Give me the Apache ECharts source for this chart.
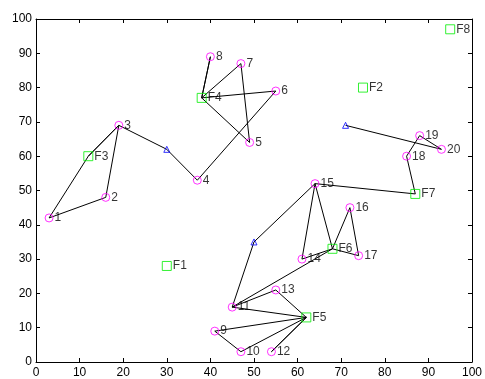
<!DOCTYPE html>
<html>
<head>
<meta charset="utf-8">
<script src="https://cdn.jsdelivr.net/npm/echarts@6/dist/echarts.min.js"></script>
<style>html,body{margin:0;padding:0;background:#fff;}#c{width:485px;height:379px;}</style>
</head>
<body>
<div id="c"></div>
<script>
// Customer points (magenta circles)
const circleNames = ['1','2','3','4','5','6','7','8','9','10','11','12','13','14','15','16','17','18','19','20'];
const circleX = [3,16,19,37,49,55,47,40,41,47,45,54,55,61,64,72,74,85,88,93];
const circleY = [42,48,69,53,64,79,87,89,9,3,16,3,21,30,52,45,31,60,66,62];
// Facilities (green squares)
const facNames = ['F1','F2','F3','F4','F5','F6','F7','F8'];
const facX = [30,75,12,38,62,68,87,95];
const facY = [28,80,60,77,13,33,49,97];
// Junction points (blue triangles, unlabeled)
const junNames = ['T1','T2','T3'];
const junX = [30,71,50];
const junY = [62,69,35];
// Connections
const edges = [
  ['F3','3'],['F3','3'],['F3','1'],['1','2'],['2','3'],['3','T1'],['T1','4'],['4','6'],['6','F4'],
  ['F4','8'],['F4','8'],['F4','7'],['7','5'],['5','F4'],
  ['T2','20'],['20','19'],['19','18'],['18','F7'],['F7','15'],
  ['15','T3'],['T3','11'],['15','14'],['15','F6'],['14','F6'],['11','F6'],['F6','16'],['16','17'],['17','F6'],
  ['11','13'],['13','F5'],['11','F5'],['9','F5'],['9','10'],['10','F5'],['12','F5'],['12','F5']
];
const ticks = [0,10,20,30,40,50,60,70,80,90,100];

const pos = {};
circleNames.forEach((n,i)=>pos[n]=[circleX[i],circleY[i]]);
facNames.forEach((n,i)=>pos[n]=[facX[i],facY[i]]);
junNames.forEach((n,i)=>pos[n]=[junX[i],junY[i]]);

const font = 'Liberation Sans, Arial, Helvetica, sans-serif';
const labelStyle = {show:true, position:'right', distance:1, color:'#000', fontSize:12, fontFamily:font, formatter:p=>p.name};

function axisCommon(show){
  return {
    type:'value', min:0, max:100, interval:10,
    axisLine:{show:true, onZero:false, lineStyle:{color:'#000', width:1}},
    axisTick:{show:true, inside:true, length:4, lineStyle:{color:'#000'}},
    axisLabel:{show:show, color:'#000', fontSize:12, fontFamily:font},
    splitLine:{show:false}
  };
}
const xb = axisCommon(true); xb.position='bottom'; xb.axisLabel.margin=5;
const xt = axisCommon(false); xt.position='top';
const yl = axisCommon(true); yl.position='left'; yl.axisLabel.margin=4;
const yr = axisCommon(false); yr.position='right';

const chart = echarts.init(document.getElementById('c'));
chart.setOption({
  animation:false,
  backgroundColor:'#fff',
  grid:{left:36, right:10, top:19, bottom:16, containLabel:false},
  xAxis:[xb, xt],
  yAxis:[yl, yr],
  series:[
    {
      type:'lines', coordinateSystem:'cartesian2d', xAxisIndex:0, yAxisIndex:0,
      polyline:false, silent:true,
      lineStyle:{color:'#000', width:1, opacity:1},
      data: edges.map(e=>({coords:[pos[e[0]], pos[e[1]]]})),
      z:2
    },
    {
      type:'scatter', xAxisIndex:0, yAxisIndex:0, symbol:'circle', symbolSize:8,
      itemStyle:{color:'rgba(0,0,0,0)', borderColor:'#ff00ff', borderWidth:1},
      label:labelStyle,
      data: circleNames.map((n,i)=>({name:n, value:[circleX[i],circleY[i]]})),
      z:3
    },
    {
      type:'scatter', xAxisIndex:0, yAxisIndex:0, symbol:'rect', symbolSize:9,
      itemStyle:{color:'rgba(0,0,0,0)', borderColor:'#00ee00', borderWidth:1},
      label:labelStyle,
      data: facNames.map((n,i)=>({name:n, value:[facX[i],facY[i]]})),
      z:3
    },
    {
      type:'scatter', xAxisIndex:0, yAxisIndex:0, symbol:'triangle', symbolSize:6,
      itemStyle:{color:'rgba(0,0,0,0)', borderColor:'#0000ff', borderWidth:1},
      data: junNames.map((n,i)=>({name:n, value:[junX[i],junY[i]]})),
      z:3
    }
  ]
});
</script>
</body>
</html>
